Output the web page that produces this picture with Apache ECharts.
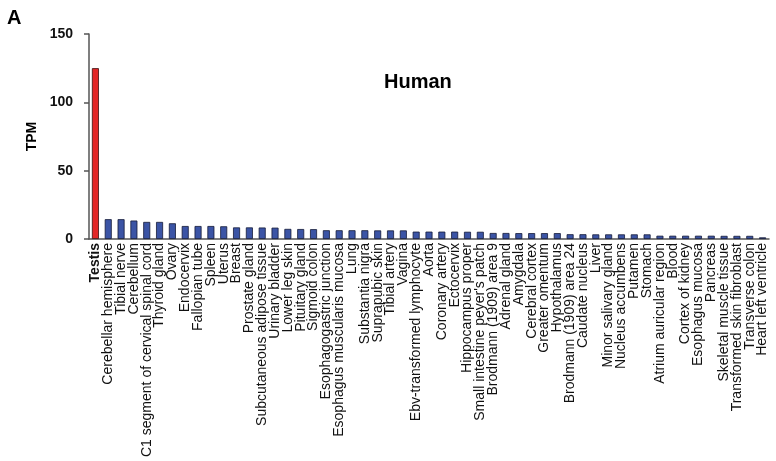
<!DOCTYPE html>
<html>
<head>
<meta charset="utf-8">
<script src="https://cdn.jsdelivr.net/npm/echarts@6/dist/echarts.min.js"></script>
<style>
  html, body { margin: 0; padding: 0; background: #fff; }
  #chart { width: 776px; height: 461px; }
</style>
</head>
<body>
<div id="chart"></div>
<script>
// Tissue names, ordered by expression
const tissues = [
  "Testis", "Cerebellar hemisphere", "Tibial nerve", "Cerebellum",
  "C1 segment of cervical spinal cord", "Thyroid gland", "Ovary", "Endocervix",
  "Fallopian tube", "Spleen", "Uterus", "Breast", "Prostate gland",
  "Subcutaneous adipose tissue", "Urinary bladder", "Lower leg skin",
  "Pituitary gland", "Sigmoid colon", "Esophagogastric junction",
  "Esophagus muscularis mucosa", "Lung", "Substantia nigra", "Suprapubic skin",
  "Tibial artery", "Vagina", "Ebv-transformed lymphocyte", "Aorta",
  "Coronary artery", "Ectocervix", "Hippocampus proper",
  "Small intestine peyer's patch", "Brodmann (1909) area 9", "Adrenal gland",
  "Amygdala", "Cerebral cortex", "Greater omentum", "Hypothalamus",
  "Brodmann (1909) area 24", "Caudate nucleus", "Liver", "Minor salivary gland",
  "Nucleus accumbens", "Putamen", "Stomach", "Atrium auricular region", "Blood",
  "Cortex of kidney", "Esophagus mucosa", "Pancreas", "Skeletal muscle tissue",
  "Transformed skin fibroblast", "Transverse colon", "Heart left ventricle"
];

// Expression level (TPM) per tissue
const tpm = [
  125, 14.5, 14.5, 13.5, 12.5, 12.5, 11.5, 9.5, 9.5, 9.5, 9.3, 8.5, 8.5,
  8.4, 8.3, 7.4, 7.3, 7.2, 6.4, 6.4, 6.4, 6.4, 6.3, 6.3, 6.3, 5.4, 5.4,
  5.4, 5.4, 5.3, 5.3, 4.4, 4.4, 4.3, 4.3, 4.3, 4.3, 3.5, 3.5, 3.4, 3.4,
  3.4, 3.4, 3.4, 2.4, 2.4, 2.4, 2.4, 2.4, 2.3, 2.3, 2.3, 1.2
];

// Y axis ticks
const yTicks = [0, 50, 100, 150];

const highlight = "Testis";

const chart = echarts.init(document.getElementById('chart'), null, { renderer: 'canvas' });

const FONT = 'Liberation Sans, Arial, Helvetica, sans-serif';

chart.setOption({
  animation: false,
  backgroundColor: '#fff',
  graphic: [
    { type: 'text', left: 7, top: 8,
      style: { text: 'A', font: 'bold 20px ' + FONT, fill: '#000' } },
    { type: 'text', left: 384, top: 72,
      style: { text: 'Human', font: 'bold 20px ' + FONT, fill: '#000' } }
  ],
  grid: { left: 89, right: 7, top: 34, bottom: 222, containLabel: false },
  xAxis: {
    type: 'category',
    data: tissues.map(t => t === highlight
      ? { value: t, textStyle: { fontWeight: 'bold' } }
      : t),
    axisLine: { lineStyle: { color: '#555', width: 1.5 } },
    axisTick: { show: false },
    axisLabel: {
      interval: 0, rotate: 90, margin: 4,
      fontFamily: FONT, fontSize: 14, color: '#111'
    }
  },
  yAxis: {
    type: 'value',
    min: yTicks[0], max: yTicks[yTicks.length - 1], interval: 50,
    name: 'TPM', nameLocation: 'middle', nameGap: 49, nameRotate: 90,
    nameTextStyle: { fontFamily: FONT, fontWeight: 'bold', fontSize: 14, color: '#000' },
    axisLine: { show: true, lineStyle: { color: '#555', width: 1.5 } },
    axisTick: { show: true, length: 5, lineStyle: { color: '#555', width: 1.5 } },
    axisLabel: { fontFamily: FONT, fontWeight: 'bold', fontSize: 14, color: '#111', margin: 16 },
    splitLine: { show: false }
  },
  series: [{
    type: 'bar',
    barWidth: 7,
    data: tpm.map((v, i) => ({
      value: v,
      itemStyle: tissues[i] === highlight
        ? { color: '#e32626', borderColor: '#3a1010', borderWidth: 0.8 }
        : { color: '#3b54a5', borderColor: '#141a38', borderWidth: 0.8 }
    }))
  }]
});
</script>
</body>
</html>
